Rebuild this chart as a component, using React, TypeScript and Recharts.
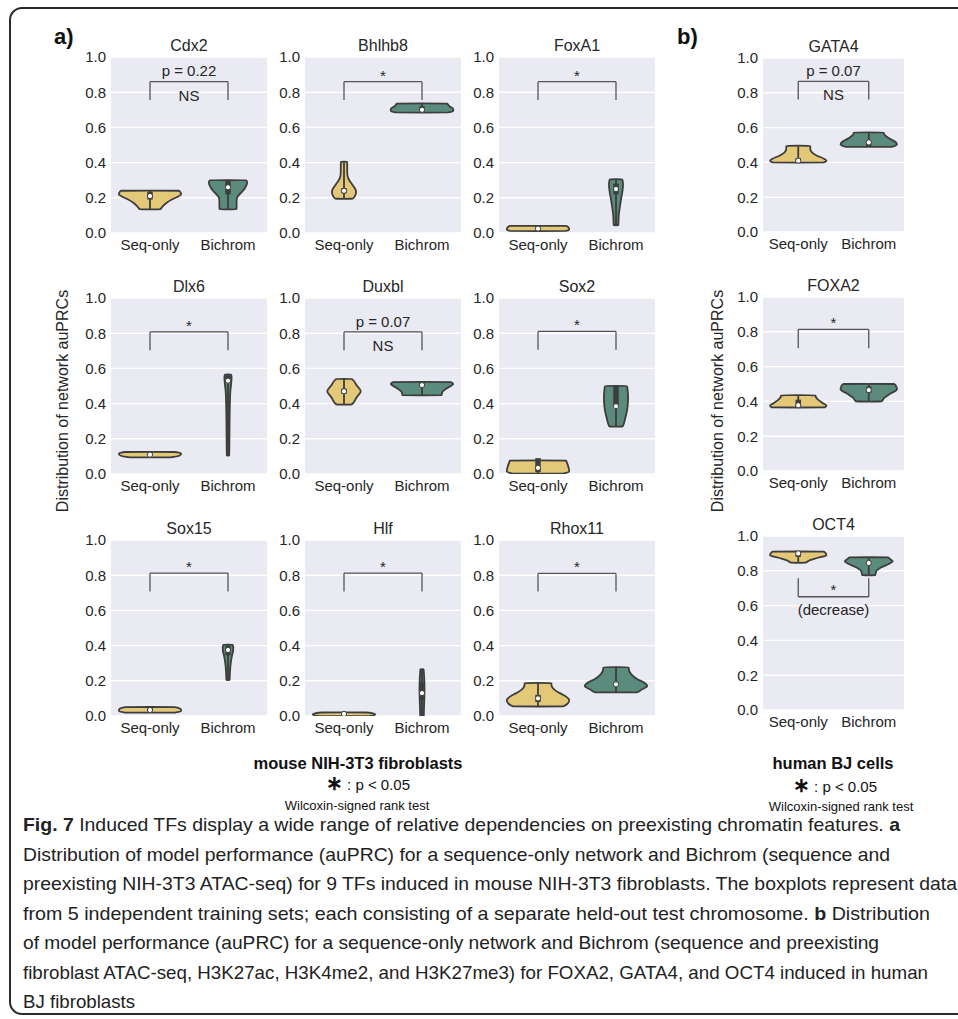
import React from "react";
import {
  ComposedChart,
  Area,
  Scatter,
  XAxis,
  YAxis,
  CartesianGrid,
  ReferenceLine,
  ReferenceDot,
} from "recharts";

// categories on every panel
const CATEGORIES = ["Seq-only", "Bichrom"];
const Y_TICKS = [0, 0.2, 0.4, 0.6, 0.8, 1.0];

const SEQ_COLOR = "#E3C878";
const BICHROM_COLOR = "#5B8B7D";
const EDGE = "#3D3D3D";
const TEXT = "#262626";
const FONT = '"Liberation Sans", Arial, Helvetica, sans-serif';

// violin outlines: [auPRC, half width in category units]
const cdx2Seq = [[0.135, 0.13], [0.15, 0.16], [0.17, 0.21], [0.19, 0.28], [0.205, 0.35], [0.22, 0.4], [0.232, 0.39], [0.24, 0.37]];
const cdx2Bichrom = [[0.135, 0.11], [0.17, 0.11], [0.2, 0.115], [0.225, 0.16], [0.25, 0.21], [0.275, 0.24], [0.29, 0.245], [0.3, 0.23]];
const bhlhb8Seq = [[0.195, 0.11], [0.21, 0.14], [0.235, 0.155], [0.26, 0.13], [0.285, 0.09], [0.31, 0.055], [0.34, 0.042], [0.405, 0.04]];
const bhlhb8Bichrom = [[0.685, 0.34], [0.695, 0.4], [0.705, 0.4], [0.72, 0.35], [0.735, 0.32]];
const foxa1Seq = [[0.012, 0.36], [0.022, 0.4], [0.032, 0.39], [0.04, 0.36]];
const foxa1Bichrom = [[0.045, 0.03], [0.1, 0.035], [0.15, 0.05], [0.2, 0.068], [0.245, 0.085], [0.28, 0.09], [0.305, 0.08]];
const dlx6Seq = [[0.095, 0.26], [0.105, 0.38], [0.115, 0.4], [0.125, 0.32]];
const dlx6Bichrom = [[0.105, 0.015], [0.2, 0.018], [0.3, 0.02], [0.4, 0.024], [0.47, 0.03], [0.52, 0.042], [0.55, 0.046], [0.565, 0.04]];
const duxblSeq = [[0.395, 0.1], [0.435, 0.16], [0.47, 0.215], [0.505, 0.16], [0.54, 0.1]];
const duxblBichrom = [[0.448, 0.25], [0.465, 0.26], [0.485, 0.31], [0.5, 0.37], [0.512, 0.4], [0.522, 0.37]];
const sox2Seq = [[0.003, 0.33], [0.015, 0.4], [0.04, 0.39], [0.065, 0.37], [0.076, 0.36]];
const sox2Bichrom = [[0.27, 0.085], [0.32, 0.12], [0.38, 0.148], [0.44, 0.155], [0.48, 0.148], [0.5, 0.14]];
const sox15Seq = [[0.02, 0.33], [0.03, 0.4], [0.04, 0.39], [0.05, 0.32]];
const sox15Bichrom = [[0.205, 0.02], [0.25, 0.025], [0.3, 0.035], [0.34, 0.05], [0.37, 0.065], [0.39, 0.067], [0.405, 0.06]];
const hlfSeq = [[0.0, 0.33], [0.008, 0.4], [0.016, 0.36], [0.02, 0.28]];
const hlfBichrom = [[0.0, 0.022], [0.05, 0.026], [0.1, 0.03], [0.15, 0.032], [0.2, 0.03], [0.245, 0.024], [0.265, 0.02]];
const rhox11Seq = [[0.055, 0.32], [0.07, 0.38], [0.09, 0.4], [0.11, 0.36], [0.13, 0.28], [0.15, 0.21], [0.17, 0.175], [0.187, 0.17]];
const rhox11Bichrom = [[0.135, 0.27], [0.15, 0.33], [0.17, 0.4], [0.19, 0.36], [0.21, 0.27], [0.235, 0.2], [0.255, 0.17], [0.277, 0.16]];
const gata4Seq = [[0.4, 0.36], [0.41, 0.4], [0.42, 0.37], [0.44, 0.26], [0.46, 0.19], [0.48, 0.17], [0.495, 0.17]];
const gata4Bichrom = [[0.49, 0.33], [0.505, 0.4], [0.52, 0.37], [0.54, 0.28], [0.56, 0.22], [0.572, 0.21]];
const foxa2Seq = [[0.366, 0.38], [0.376, 0.4], [0.39, 0.35], [0.41, 0.28], [0.425, 0.25], [0.435, 0.24]];
const foxa2Bichrom = [[0.4, 0.18], [0.42, 0.22], [0.445, 0.31], [0.47, 0.4], [0.49, 0.385], [0.5, 0.36]];
const oct4Seq = [[0.847, 0.1], [0.86, 0.16], [0.875, 0.28], [0.89, 0.4], [0.903, 0.385], [0.91, 0.36]];
const oct4Bichrom = [[0.775, 0.09], [0.8, 0.11], [0.82, 0.18], [0.84, 0.29], [0.855, 0.34], [0.868, 0.3], [0.877, 0.27]];

// inner box: [q1, median, q3]
const cdx2Box = [[0.19, 0.21, 0.235], [0.22, 0.26, 0.3]];
const bhlhb8Box = [[0.225, 0.24, 0.255], [0.69, 0.7, 0.72]];
const foxa1Box = [[0.015, 0.025, 0.04], [0.22, 0.25, 0.28]];
const dlx6Box = [[0.105, 0.11, 0.12], [0.52, 0.53, 0.56]];
const duxblBox = [[0.455, 0.47, 0.485], [0.495, 0.505, 0.52]];
const sox2Box = [[0.01, 0.035, 0.09], [0.38, 0.385, 0.5]];
const sox15Box = [[0.028, 0.034, 0.045], [0.345, 0.375, 0.4]];
const hlfBox = [[0.005, 0.012, 0.018], [0.09, 0.13, 0.19]];
const rhox11Box = [[0.08, 0.1, 0.12], [0.17, 0.18, 0.19]];
const gata4Box = [[0.4, 0.41, 0.425], [0.49, 0.515, 0.525]];
const foxa2Box = [[0.365, 0.378, 0.41], [0.45, 0.465, 0.485]];
const oct4Box = [[0.88, 0.9, 0.91], [0.835, 0.845, 0.855]];

type Test = { kind: "ns" | "star" | "decrease"; p?: string; bar: number; foot: number };

const panels = [
  { title: "Cdx2", seq: cdx2Seq, bichrom: cdx2Bichrom, box: cdx2Box, test: { kind: "ns", p: "p = 0.22", bar: 0.86, foot: 0.755 } },
  { title: "Bhlhb8", seq: bhlhb8Seq, bichrom: bhlhb8Bichrom, box: bhlhb8Box, test: { kind: "star", bar: 0.86, foot: 0.755 } },
  { title: "FoxA1", seq: foxa1Seq, bichrom: foxa1Bichrom, box: foxa1Box, test: { kind: "star", bar: 0.86, foot: 0.755 } },
  { title: "Dlx6", seq: dlx6Seq, bichrom: dlx6Bichrom, box: dlx6Box, test: { kind: "star", bar: 0.807, foot: 0.703 } },
  { title: "Duxbl", seq: duxblSeq, bichrom: duxblBichrom, box: duxblBox, test: { kind: "ns", p: "p = 0.07", bar: 0.807, foot: 0.703 } },
  { title: "Sox2", seq: sox2Seq, bichrom: sox2Bichrom, box: sox2Box, test: { kind: "star", bar: 0.81, foot: 0.706 } },
  { title: "Sox15", seq: sox15Seq, bichrom: sox15Bichrom, box: sox15Box, test: { kind: "star", bar: 0.812, foot: 0.708 } },
  { title: "Hlf", seq: hlfSeq, bichrom: hlfBichrom, box: hlfBox, test: { kind: "star", bar: 0.812, foot: 0.708 } },
  { title: "Rhox11", seq: rhox11Seq, bichrom: rhox11Bichrom, box: rhox11Box, test: { kind: "star", bar: 0.81, foot: 0.708 } },
  { title: "GATA4", seq: gata4Seq, bichrom: gata4Bichrom, box: gata4Box, test: { kind: "ns", p: "p = 0.07", bar: 0.866, foot: 0.762 } },
  { title: "FOXA2", seq: foxa2Seq, bichrom: foxa2Bichrom, box: foxa2Box, test: { kind: "star", bar: 0.814, foot: 0.705 } },
  { title: "OCT4", seq: oct4Seq, bichrom: oct4Bichrom, box: oct4Box, test: { kind: "decrease", bar: 0.651, foot: 0.757 } },
];

// plot-area placement (left, top) on the page
const A_COLS = [111, 305, 499];
const A_ROWS = [57, 298, 540];
const B_COL = 763;
const B_ROWS = [58, 297, 536];

const CAPTION = [
  [["Fig. 7", true], [" Induced TFs display a wide range of relative dependencies on preexisting chromatin features. ", false], ["a", true]],
  [["Distribution of model performance (auPRC) for a sequence-only network and Bichrom (sequence and", false]],
  [["preexisting NIH-3T3 ATAC-seq) for 9 TFs induced in mouse NIH-3T3 fibroblasts. The boxplots represent data", false]],
  [["from 5 independent training sets; each consisting of a separate held-out test chromosome. ", false], ["b", true], [" Distribution", false]],
  [["of model performance (auPRC) for a sequence-only network and Bichrom (sequence and preexisting", false]],
  [["fibroblast ATAC-seq, H3K27ac, H3K4me2, and H3K27me3) for FOXA2, GATA4, and OCT4 induced in human", false]],
  [["BJ fibroblasts", false]],
];
const CAPTION_WIDTHS = [877, 867, 934, 907, 856, 905, 112];

const M_LEFT = 44;
const M_TOP = 32;
const M_BOTTOM = 28;
const M_RIGHT = 4;

function violinPoints(shape: number[][], center: number) {
  const first = shape[0];
  const last = shape[shape.length - 1];
  const pts = [{ y: first[0] - 0.001, v: [center, center] }];
  shape.forEach(([y, w]) => pts.push({ y, v: [center - w, center + w] }));
  pts.push({ y: last[0] + 0.001, v: [center, center] });
  return pts;
}

const MedianDot = (props: any) => (
  <circle cx={props.cx} cy={props.cy} r={2.6} fill="#fff" stroke={EDGE} strokeWidth={1} />
);

function ViolinPanel({ panel, left, top, plotW, plotH }: any) {
  const width = M_LEFT + plotW + M_RIGHT;
  const height = M_TOP + plotH + M_BOTTOM;
  const t: Test = panel.test;
  const textProps = { fill: TEXT, fontSize: 15, fontFamily: FONT };
  const shapes = [panel.seq, panel.bichrom];
  const colors = [SEQ_COLOR, BICHROM_COLOR];
  const medians = panel.box.map((b: number[], i: number) => ({ x: i + 0.5, y: b[1] }));

  return (
    <div style={{ position: "absolute", left: left - M_LEFT, top: top - M_TOP, width, height }}>
      <div
        style={{
          position: "absolute",
          left: M_LEFT,
          width: plotW,
          top: M_TOP - 19,
          textAlign: "center",
          fontSize: 16,
          lineHeight: "16px",
          fontFamily: FONT,
          color: TEXT,
        }}
      >
        {panel.title}
      </div>
      <ComposedChart
        layout="vertical"
        width={width}
        height={height}
        margin={{ top: M_TOP, right: M_RIGHT, bottom: 0, left: 0 }}
      >
        <CartesianGrid fill="#EAEAF2" stroke="#ffffff" strokeWidth={1.4} vertical={false} />
        <XAxis
          type="number"
          dataKey="x"
          domain={[0, 2]}
          ticks={[0.5, 1.5]}
          interval={0}
          allowDataOverflow
          tickFormatter={(v: number) => CATEGORIES[Math.round(v - 0.5)]}
          axisLine={false}
          tickLine={false}
          tickSize={0}
          tickMargin={6}
          height={M_BOTTOM}
          tick={textProps}
        />
        <YAxis
          type="number"
          dataKey="y"
          domain={[0, 1]}
          ticks={Y_TICKS}
          interval={0}
          reversed
          allowDataOverflow
          tickFormatter={(v: number) => v.toFixed(1)}
          axisLine={false}
          tickLine={false}
          tickSize={0}
          tickMargin={5}
          width={M_LEFT}
          tick={textProps}
        />
        {shapes.map((s: number[][], i: number) => (
          <Area
            key={`violin-${i}`}
            data={violinPoints(s, i + 0.5)}
            dataKey="v"
            type="monotone"
            fill={colors[i]}
            fillOpacity={1}
            stroke={EDGE}
            strokeWidth={1.8}
            dot={false}
            activeDot={false}
            isAnimationActive={false}
          />
        ))}
        {shapes.map((s: number[][], i: number) => (
          <ReferenceLine
            key={`whisker-${i}`}
            segment={[
              { x: i + 0.5, y: s[0][0] },
              { x: i + 0.5, y: s[s.length - 1][0] },
            ]}
            stroke={EDGE}
            strokeWidth={1.8}
            ifOverflow="visible"
          />
        ))}
        {panel.box.map((b: number[], i: number) => (
          <ReferenceLine
            key={`box-${i}`}
            segment={[
              { x: i + 0.5, y: b[0] },
              { x: i + 0.5, y: b[2] },
            ]}
            stroke={EDGE}
            strokeWidth={5.5}
            ifOverflow="visible"
          />
        ))}
        <Scatter data={medians} shape={MedianDot} isAnimationActive={false} />
        {/* significance bracket */}
        <ReferenceLine segment={[{ x: 0.5, y: t.bar }, { x: 1.5, y: t.bar }]} stroke="#555" strokeWidth={1.3} ifOverflow="visible" />
        <ReferenceLine segment={[{ x: 0.5, y: t.foot }, { x: 0.5, y: t.bar }]} stroke="#555" strokeWidth={1.3} ifOverflow="visible" />
        <ReferenceLine segment={[{ x: 1.5, y: t.foot }, { x: 1.5, y: t.bar }]} stroke="#555" strokeWidth={1.3} ifOverflow="visible" />
        {t.kind === "ns" && (
          <ReferenceDot x={1} y={t.bar + 0.06} r={0} fill="none" stroke="none" ifOverflow="visible"
            label={{ value: t.p, position: "center", ...textProps }} />
        )}
        {t.kind === "ns" && (
          <ReferenceDot x={1} y={t.bar - 0.078} r={0} fill="none" stroke="none" ifOverflow="visible"
            label={{ value: "NS", position: "center", ...textProps }} />
        )}
        {t.kind === "star" && (
          <ReferenceDot x={1} y={t.bar + 0.036} r={0} fill="none" stroke="none" ifOverflow="visible"
            label={{ value: "*", position: "center", ...textProps }} />
        )}
        {t.kind === "decrease" && (
          <ReferenceDot x={1} y={t.bar + 0.038} r={0} fill="none" stroke="none" ifOverflow="visible"
            label={{ value: "*", position: "center", ...textProps }} />
        )}
        {t.kind === "decrease" && (
          <ReferenceDot x={1} y={0.575} r={0} fill="none" stroke="none" ifOverflow="visible"
            label={{ value: "(decrease)", position: "center", ...textProps }} />
        )}
      </ComposedChart>
    </div>
  );
}

export default function App() {
  const placed = panels.map((p, i) => {
    if (i < 9) {
      return { p, left: A_COLS[i % 3], top: A_ROWS[Math.floor(i / 3)], w: 156, h: 176 };
    }
    return { p, left: B_COL, top: B_ROWS[i - 9], w: 141, h: 174 };
  });

  return (
    <div style={{ position: "relative", width: 958, height: 1019, background: "#fff", overflow: "hidden", fontFamily: FONT }}>
      <style>{"body{margin:0}"}</style>
      <svg width={958} height={1019} style={{ position: "absolute", left: 0, top: 0 }}>
        <rect x={10} y={8} width={980} height={1006} rx={12} fill="none" stroke="#2a2a2a" strokeWidth={2} />
        <text x={54} y={44} fontSize={22} fontWeight="bold" fill="#111">a)</text>
        <text x={677} y={44} fontSize={22} fontWeight="bold" fill="#111">b)</text>
        <text transform="translate(62,401) rotate(-90)" textAnchor="middle" dominantBaseline="central" fontSize={16} fill={TEXT}>
          Distribution of network auPRCs
        </text>
        <text transform="translate(717,401) rotate(-90)" textAnchor="middle" dominantBaseline="central" fontSize={16} fill={TEXT}>
          Distribution of network auPRCs
        </text>

        <text x={358} y={769} textAnchor="middle" fontSize={16.5} fontWeight="bold" fill="#111">mouse NIH-3T3 fibroblasts</text>
        <text x={368} y={790} textAnchor="middle" fontSize={15} fill="#111">
          <tspan fontSize={20} fontWeight="bold">∗</tspan>
          <tspan> : p &lt; 0.05</tspan>
        </text>
        <text x={357} y={810} textAnchor="middle" fontSize={13} fill="#111">Wilcoxin-signed rank test</text>

        <text x={833} y={769} textAnchor="middle" fontSize={16.5} fontWeight="bold" fill="#111">human BJ cells</text>
        <text x={835} y={792} textAnchor="middle" fontSize={15} fill="#111">
          <tspan fontSize={20} fontWeight="bold">∗</tspan>
          <tspan> : p &lt; 0.05</tspan>
        </text>
        <text x={841} y={811} textAnchor="middle" fontSize={13} fill="#111">Wilcoxin-signed rank test</text>

        {CAPTION.map((line, i) => (
          <text
            key={i}
            x={23}
            y={831 + i * 29.5}
            fontSize={18.5}
            fill="#222"
            textLength={CAPTION_WIDTHS[i]}
            lengthAdjust="spacingAndGlyphs"
          >
            {line.map((seg: any, j: number) => (
              <tspan key={j} fontWeight={seg[1] ? "bold" : "normal"}>{seg[0]}</tspan>
            ))}
          </text>
        ))}
      </svg>
      {placed.map((q, i) => (
        <ViolinPanel key={i} panel={q.p} left={q.left} top={q.top} plotW={q.w} plotH={q.h} />
      ))}
    </div>
  );
}
